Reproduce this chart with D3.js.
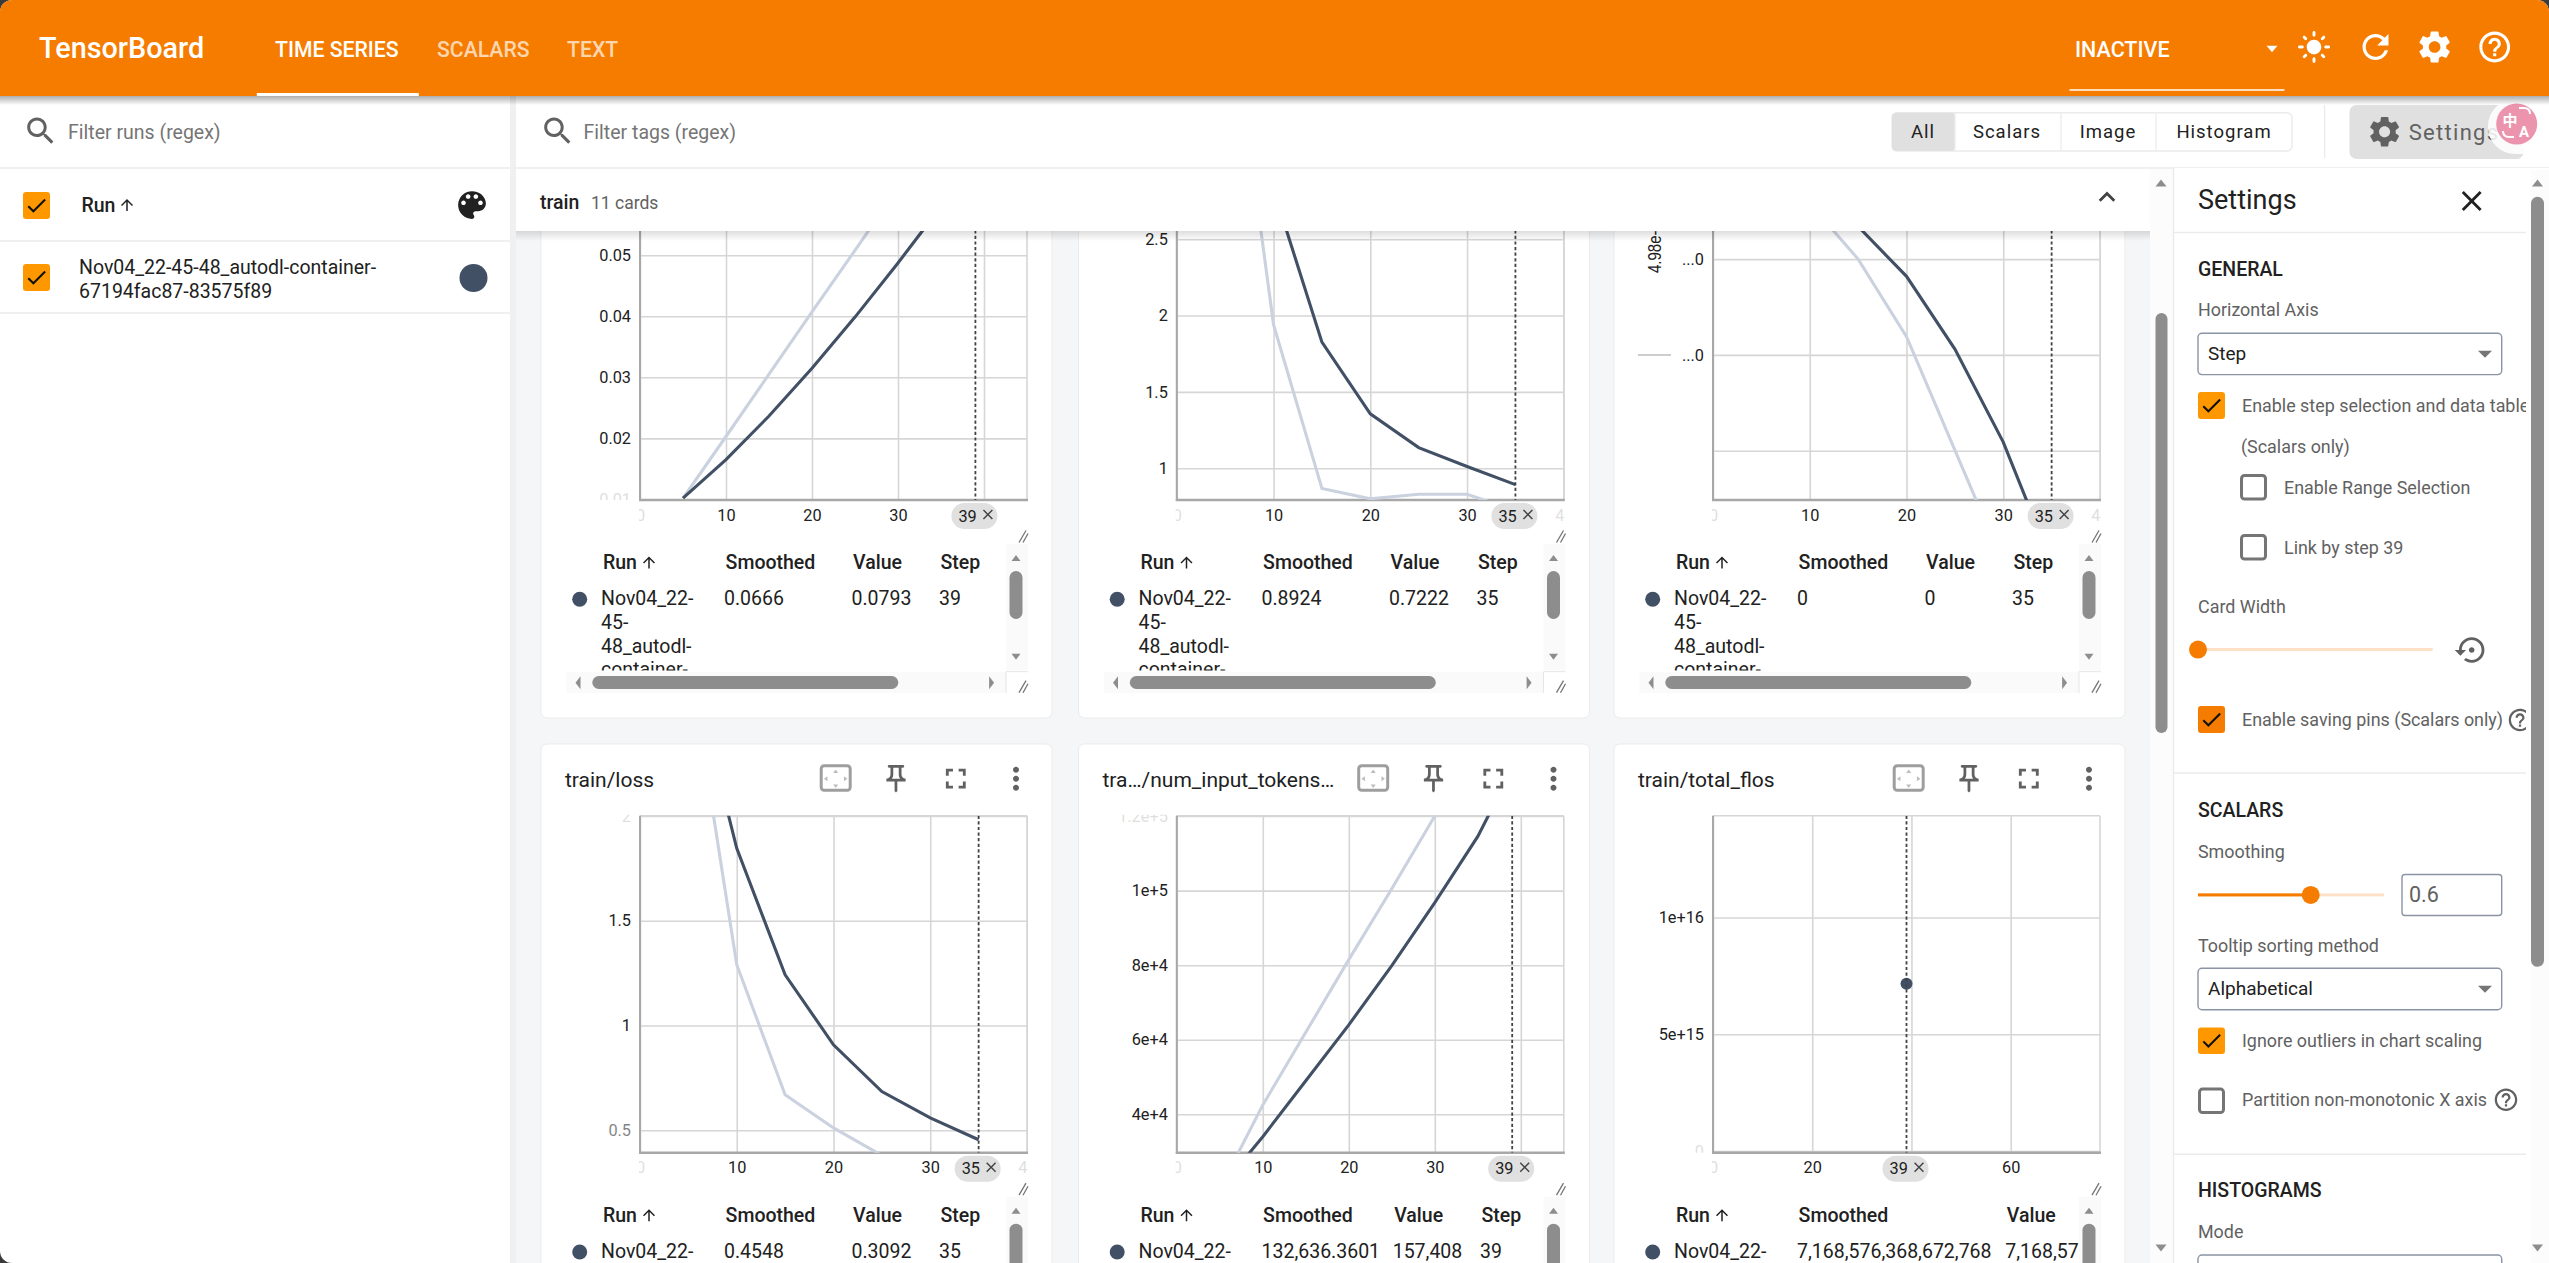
<!DOCTYPE html>
<html><head><meta charset="utf-8"><title>TensorBoard</title>
<script src="https://cdn.jsdelivr.net/npm/d3@7/dist/d3.min.js"></script>
<style>html,body{margin:0;padding:0;background:#3a3a3a;overflow:hidden}svg{display:block;font-family:Roboto,sans-serif}</style>
</head><body><svg id="c" width="2549" height="1263"></svg>
<script>
// ---------- data ----------
const steps = [5,10,15,20,25,30,35,39];
const stepsShort = [5,10,15,20,25,30,35];
const lrRaw = [0.0102,0.0203,0.0305,0.0407,0.0508,0.061,0.0712,0.0793];
const lrSmooth = [0.0102,0.0165,0.02365,0.03148,0.03986,0.04873,0.05797,0.0666];
const gradRaw = [4.3,1.94,0.867,0.80,0.83,0.83,0.7222];
const gradSmooth = [4.3,2.825,1.826,1.356,1.135,1.011,0.8924];
const rateRaw = [3.9,3.58,3.0,2.19,1.007,-0.18,-1.4];
const rateSmooth = [3.9,3.72,3.34,2.82,2.06,1.09,-0.17];
const lossRaw = [2.77,1.29,0.669,0.511,0.38,0.34,0.3092];
const lossSmooth = [2.77,1.845,1.242,0.908,0.685,0.559,0.4548];
const tokensRaw = [20000,42500,62000,81500,100500,120000,140000,157408];
const tokensSmooth = [20000,34000,49000,64000,79900,96800,114540,132636.36];
const flosStep = [39];
const flosValue = [7168576368672768];
const xTicks45 = [0,10,20,30,40];
const xTicks78 = [0,20,40,60];
const lrTicks = [0.01,0.02,0.03,0.04,0.05,0.06];
const gradTicks = [1,1.5,2,2.5];
const rateTicks = [1,2,3];
const lossTicks = [0.5,1,1.5,2];
const tokensTicks = [4e4,6e4,8e4,1e5,1.2e5];
const flosTicks = [0,5e15,1e16];
const runLines = ['Nov04_22-','45-','48_autodl-','container-'];
const runName = ['Nov04_22-45-48_autodl-container-','67194fac87-83575f89'];
const tableHead = ['Run','Smoothed','Value','Step'];
const lrRow = ['0.0666','0.0793','39'];
const gradRow = ['0.8924','0.7222','35'];
const rateRow = ['0','0','35'];
const lossRow = ['0.4548','0.3092','35'];
const tokensRow = ['132,636.3601','157,408','39'];
const flosRow = ['7,168,576,368,672,768','7,168,576,368,672,768','39'];
const titles = ['train/loss','tra…/num_input_tokens…','train/total_flos'];
const navTabs = ['TIME SERIES','SCALARS','TEXT'];
const filterTabs = ['All','Scalars','Image','Histogram'];

// ---------- icons ----------
const P = {
 search:"M15.5 14h-.79l-.28-.27C15.41 12.59 16 11.11 16 9.5 16 5.91 13.09 3 9.5 3S3 5.91 3 9.5 5.91 16 9.5 16c1.61 0 3.09-.59 4.23-1.57l.27.28v.79l5 4.99L20.49 19l-4.99-5zm-6 0C7.01 14 5 11.99 5 9.5S7.01 5 9.5 5 14 7.01 14 9.5 11.99 14 9.5 14z",
 refresh:"M17.65 6.35C16.2 4.9 14.21 4 12 4c-4.42 0-7.99 3.58-7.99 8s3.57 8 7.99 8c3.73 0 6.84-2.55 7.73-6h-2.08c-.82 2.33-3.04 4-5.65 4-3.31 0-6-2.69-6-6s2.69-6 6-6c1.66 0 3.14.69 4.22 1.78L13 11h7V4l-2.35 2.35z",
 gear:"M19.14 12.94c.04-.3.06-.61.06-.94 0-.32-.02-.64-.07-.94l2.03-1.58c.18-.14.23-.41.12-.61l-1.92-3.32c-.12-.22-.37-.29-.59-.22l-2.39.96c-.5-.38-1.03-.7-1.62-.94l-.36-2.54c-.04-.24-.24-.41-.48-.41h-3.84c-.24 0-.43.17-.47.41l-.36 2.54c-.59.24-1.13.57-1.62.94l-2.39-.96c-.22-.08-.47 0-.59.22L2.74 8.87c-.12.21-.08.47.12.61l2.03 1.58c-.05.3-.09.63-.09.94s.02.64.07.94l-2.03 1.58c-.18.14-.23.41-.12.61l1.92 3.32c.12.22.37.29.59.22l2.39-.96c.5.38 1.03.7 1.62.94l.36 2.54c.05.24.24.41.48.41h3.84c.24 0 .44-.17.47-.41l.36-2.54c.59-.24 1.13-.56 1.62-.94l2.39.96c.22.08.47 0 .59-.22l1.92-3.32c.12-.22.07-.47-.12-.61l-2.01-1.58zM12 15.6c-1.98 0-3.6-1.62-3.6-3.6s1.62-3.6 3.6-3.6 3.6 1.62 3.6 3.6-1.62 3.6-3.6 3.6z",
 help:"M11 18h2v-2h-2v2zm1-16C6.48 2 2 6.48 2 12s4.48 10 10 10 10-4.48 10-10S17.52 2 12 2zm0 18c-4.41 0-8-3.59-8-8s3.59-8 8-8 8 3.59 8 8-3.59 8-8 8zm0-14c-2.21 0-4 1.79-4 4h2c0-1.1.9-2 2-2s2 .9 2 2c0 2-3 1.75-3 5h2c0-2.25 3-2.5 3-5 0-2.21-1.79-4-4-4z",
 sun:"M12 7c-2.76 0-5 2.24-5 5s2.24 5 5 5 5-2.24 5-5-2.24-5-5-5zM2 13h2c.55 0 1-.45 1-1s-.45-1-1-1H2c-.55 0-1 .45-1 1s.45 1 1 1zm18 0h2c.55 0 1-.45 1-1s-.45-1-1-1h-2c-.55 0-1 .45-1 1s.45 1 1 1zM11 2v2c0 .55.45 1 1 1s1-.45 1-1V2c0-.55-.45-1-1-1s-1 .45-1 1zm0 18v2c0 .55.45 1 1 1s1-.45 1-1v-2c0-.55-.45-1-1-1s-1 .45-1 1zM5.99 4.58c-.39-.39-1.03-.39-1.41 0-.39.39-.39 1.03 0 1.41l1.06 1.06c.39.39 1.03.39 1.41 0s.39-1.03 0-1.41L5.99 4.58zm12.37 12.37c-.39-.39-1.03-.39-1.41 0-.39.39-.39 1.03 0 1.41l1.06 1.06c.39.39 1.03.39 1.41 0 .39-.39.39-1.03 0-1.41l-1.06-1.06zm1.06-10.96c.39-.39.39-1.03 0-1.41-.39-.39-1.03-.39-1.41 0l-1.06 1.06c-.39.39-.39 1.03 0 1.41s1.03.39 1.41 0l1.06-1.06zM7.05 18.36c.39-.39.39-1.03 0-1.41-.39-.39-1.03-.39-1.41 0l-1.06 1.06c-.39.39-.39 1.03 0 1.41s1.03.39 1.41 0l1.06-1.06z",
 palette:"M12 3c-4.97 0-9 4.03-9 9s4.03 9 9 9c.83 0 1.5-.67 1.5-1.5 0-.39-.15-.74-.39-1.01-.23-.26-.38-.61-.38-.99 0-.83.67-1.5 1.5-1.5H16c2.76 0 5-2.24 5-5 0-4.42-4.03-8-9-8zm-5.5 9c-.83 0-1.5-.67-1.5-1.5S5.67 9 6.5 9 8 9.67 8 10.5 7.33 12 6.5 12zm3-4C8.67 8 8 7.33 8 6.5S8.67 5 9.5 5s1.5.67 1.5 1.5S10.33 8 9.5 8zm5 0c-.83 0-1.5-.67-1.5-1.5S13.67 5 14.5 5s1.5.67 1.5 1.5S15.33 8 14.5 8zm3 4c-.83 0-1.5-.67-1.5-1.5S16.67 9 17.5 9s1.5.67 1.5 1.5-.67 1.5-1.5 1.5z",
 pin:"M14 4v5c0 1.12.37 2.16 1 3H9c.65-.86 1-1.9 1-3V4h4m3-2H7c-.55 0-1 .45-1 1s.45 1 1 1h1v5c0 1.66-1.34 3-3 3v2h5.97v7l1 1 1-1v-7H19v-2c-1.66 0-3-1.34-3-3V4h1c.55 0 1-.45 1-1s-.45-1-1-1z",
 full:"M7 14H5v5h5v-2H7v-3zm-2-4h2V7h3V5H5v5zm12 7h-3v2h5v-5h-2v3zM14 5v2h3v3h2V5h-5z",
 more:"M12 8c1.1 0 2-.9 2-2s-.9-2-2-2-2 .9-2 2 .9 2 2 2zm0 2c-1.1 0-2 .9-2 2s.9 2 2 2 2-.9 2-2-.9-2-2-2zm0 6c-1.1 0-2 .9-2 2s.9 2 2 2 2-.9 2-2-.9-2-2-2z",
 close:"M19 6.41L17.59 5 12 10.59 6.41 5 5 6.41 10.59 12 5 17.59 6.41 19 12 13.41 17.59 19 19 17.59 13.41 12z",
 less:"M12 8l-6 6 1.41 1.41L12 10.83l4.59 4.58L18 14z",
 up:"M4 12l1.41 1.41L11 7.83V20h2V7.83l5.58 5.59L20 12l-8-8-8 8z",
 reset:"M14 12c0-1.1-.9-2-2-2s-2 .9-2 2 .9 2 2 2 2-.9 2-2zm-2-9c-4.97 0-9 4.03-9 9H0l4 4 4-4H5c0-3.87 3.13-7 7-7s7 3.13 7 7-3.13 7-7 7c-1.51 0-2.91-.49-4.06-1.3l-1.42 1.44C8.04 20.3 9.94 21 12 21c4.97 0 9-4.03 9-9s-4.03-9-9-9z",
 check:"M9 16.17L4.83 12l-1.42 1.41L9 19 21 7l-1.41-1.41z"
};
const svg = d3.select('#c');
const defs = svg.append('defs');
function grad(id,o1){const g=defs.append('linearGradient').attr('id',id).attr('x1',0).attr('x2',0).attr('y1',0).attr('y2',1);
 g.append('stop').attr('offset',0).attr('stop-color','#000').attr('stop-opacity',o1);
 g.append('stop').attr('offset',1).attr('stop-color','#000').attr('stop-opacity',0);}
grad('sh1',.32);grad('sh2',.13);
const R=(g,x,y,w,h,f,o={})=>{const r=g.append('rect').attr('x',x).attr('y',y).attr('width',w).attr('height',h).attr('fill',f);
 if(o.r)r.attr('rx',o.r);if(o.s)r.attr('stroke',o.s).attr('stroke-width',o.sw||1.5);return r;};
const T=(g,x,y,s,o={})=>{const t=g.append('text').attr('x',x).attr('y',y).text(s).attr('font-size',o.s||19.5).attr('fill',o.c||'#212121').attr('font-weight',o.w||400).attr('text-anchor',o.a||'start');
 if(o.ls)t.attr('letter-spacing',o.ls);if(o.f)t.attr('font-family',o.f);return t;};
const I=(g,n,cx,cy,size,c)=>g.append('path').attr('d',P[n]).attr('fill',c).attr('transform',`translate(${cx-size/2},${cy-size/2}) scale(${size/24})`);
const Tri=(g,cx,cy,w,h,dir,c)=>{const d=d3.path();
 if(dir==='d'){d.moveTo(cx-w/2,cy-h/2);d.lineTo(cx+w/2,cy-h/2);d.lineTo(cx,cy+h/2);}
 if(dir==='u'){d.moveTo(cx-w/2,cy+h/2);d.lineTo(cx+w/2,cy+h/2);d.lineTo(cx,cy-h/2);}
 if(dir==='l'){d.moveTo(cx+h/2,cy-w/2);d.lineTo(cx+h/2,cy+w/2);d.lineTo(cx-h/2,cy);}
 if(dir==='r'){d.moveTo(cx-h/2,cy-w/2);d.lineTo(cx-h/2,cy+w/2);d.lineTo(cx+h/2,cy);}
 d.closePath();g.append('path').attr('d',d.toString()).attr('fill',c);};
const L=(g,x1,y1,x2,y2,c,w=1.5)=>g.append('line').attr('x1',x1).attr('y1',y1).attr('x2',x2).attr('y2',y2).attr('stroke',c).attr('stroke-width',w);
function clip(id,x,y,w,h){defs.append('clipPath').attr('id',id).append('rect').attr('x',x).attr('y',y).attr('width',w).attr('height',h);return `url(#${id})`;}
const Box=(g,x,y,w,h,on,fill)=>{if(on){R(g,x,y,w,h,fill||'#ff9800',{r:3});I(g,'check',x+w/2,y+h/2,25,'#111');}
 else R(g,x+1.5,y+1.5,w-3,h-3,'#fff',{r:3,s:'#757575',sw:3});};

// base page
R(svg,0,0,2549,1263,'#fff',{r:12});
const mainG=svg.append('g').attr('clip-path',clip('mainclip',516,96,1634,1167));
R(mainG,516,96,1634,1167,'#f5f6f7');

// ---------- cards ----------
const INK='#425066';
const INK_LIGHT='#cbd2df';
function chart(o){
 const g=mainG.append('g');
 const cL=o.cL, left=o.left, right=left+o.w, bottom=o.bottom, top=bottom-337;
 R(g,cL,o.cardTop,o.cw,o.cardH,'#fff',{r:6,s:'#ebebeb',sw:1});
 if(o.title){
  T(g,cL+24,bottom-366,o.title,{s:21,c:'#212121'});
  R(g,cL+294.7-14.5,bottom-387,29,24.5,'#fff',{r:3,s:'#9e9e9e',sw:3});
  const fx=cL+294.7,fy=bottom-374;
  Tri(g,fx,fy-7.5,5,3.5,'u','#bdbdbd');Tri(g,fx,fy+7.5,5,3.5,'d','#bdbdbd');Tri(g,fx-10,fy,5,3.5,'l','#bdbdbd');Tri(g,fx+10,fy,5,3.5,'r','#bdbdbd');
  I(g,'pin',cL+355,bottom-374,33,'#616161');
  I(g,'full',cL+414.8,bottom-374,34,'#616161');
  I(g,'more',cL+475,bottom-374,36,'#616161');
 }
 const x=d3.scaleLinear().domain(o.xd).range([left,right]);
 const y=d3.scaleLinear().domain(o.yd).range([bottom,top]);
 const yClip=clip('yc'+o.id,left-110,top-1,o.w+110,bottom-top+1);
 const xClip=clip('xc'+o.id,left-1,top,o.w+2,bottom-top+45);
 const fade=d=>d<8?0.14:(d<26?0.55:1);
 const yG=g.append('g').attr('clip-path',yClip)
   .call(sel=>{sel.append('g').attr('transform',`translate(${left},0)`).call(d3.axisLeft(y).tickValues(o.yt).tickSize(-o.w).tickPadding(9).tickFormat(o.yf));});
 const xG=g.append('g').attr('clip-path',xClip).call(sel=>{sel.append('g').attr('transform',`translate(0,${bottom})`).call(d3.axisBottom(x).tickValues(o.xt).tickSize(-(bottom-top)).tickPadding(9));});
 [yG,xG].forEach(s=>{s.selectAll('.domain').remove();
   s.selectAll('.tick line').attr('stroke','#d6d6d6').attr('stroke-width',1.6);
   s.selectAll('.tick text').attr('font-size',16.3).attr('font-family','Roboto').attr('fill','#212121');});
 yG.selectAll('.tick text').attr('opacity',d=>fade(Math.min(bottom-y(d),y(d)-top)));
 xG.selectAll('.tick text').attr('opacity',d=>fade(Math.min(x(d)-left,right-x(d))));
 L(g,left,top,right,top,'#d6d6d6',1.6);L(g,right,top,right,bottom,'#d6d6d6',1.6);
 L(g,left,top,left,bottom+1,'#a8a8a8',2);L(g,left-1,bottom,right+1,bottom,'#a8a8a8',2.6);
 const plot=g.append('g').attr('clip-path',clip('pc'+o.id,left,top,o.w,bottom-top));
 const line=d3.line().x(d=>x(d[0])).y(d=>y(d[1]));
 if(o.raw) plot.append('path').attr('d',line(d3.zip(o.sx,o.raw))).attr('fill','none').attr('stroke',INK_LIGHT).attr('stroke-width',3.1);
 if(o.smooth) plot.append('path').attr('d',line(d3.zip(o.sx,o.smooth))).attr('fill','none').attr('stroke',INK).attr('stroke-width',3.1);
 if(o.pt) plot.selectAll('circle.p').data(d3.zip(o.pt[0],o.pt[1])).join('circle').attr('cx',d=>x(d[0])).attr('cy',d=>y(d[1])).attr('r',6).attr('fill',INK);
 const xs=x(o.step);
 L(plot,xs,top,xs,bottom,'#424242',1.8).attr('stroke-dasharray','3.2,2.4');
 R(g,xs-24,bottom+3,46,26,'#e0e0e0',{r:13});
 T(g,xs-17,bottom+21.5,String(o.step),{s:16.3});
 I(g,'close',xs+12.5,bottom+14.5,17,'#424242');
 // chart resize handle
 const hx=cL+480,hy=bottom+36.5;
 L(g,hx-2,hy+6,hx+5,hy-6,'#757575',1.3);L(g,hx+2,hy+6,hx+7,hy-3,'#757575',1.3);
 // table
 const v=o.cols;
 const tb=g.append('g').attr('clip-path',clip('tc'+o.id,cL+25,bottom+40,440,130.5));
 T(tb,cL+62,bottom+69,tableHead[0],{w:500});
 I(tb,'up',cL+108,bottom+62.5,18,'#212121');
 T(tb,cL+184.6,bottom+69,tableHead[1],{w:500});
 T(tb,cL+v[0],bottom+69,tableHead[2],{w:500});
 T(tb,cL+v[1],bottom+69,tableHead[3],{w:500});
 tb.append('circle').attr('cx',cL+38.7).attr('cy',bottom+99.3).attr('r',7.5).attr('fill',INK);
 runLines.forEach((s,i)=>T(tb,cL+60,bottom+105+i*23.8,s));
 T(tb,cL+183,bottom+105,o.row[0]);
 T(tb,cL+v[0]-1.5,bottom+105,o.row[1]);
 T(tb,cL+v[1]-1.5,bottom+105,o.row[2]);
 // table vertical scrollbar
 R(g,cL+465,bottom+44,22,126.5,'#fafafa');
 Tri(g,cL+475,bottom+58,9,6,'u','#8d8d8d');
 R(g,cL+468.5,bottom+71,13,48,'#8d8d8d',{r:6.5});
 Tri(g,cL+475,bottom+156.7,9,6,'d','#8d8d8d');
 // table horizontal scrollbar
 R(g,cL+25.4,bottom+171.7,439.6,21.3,'#fafafa');
 Tri(g,cL+37,bottom+182.7,13,5,'l','#8d8d8d');
 R(g,cL+51.3,bottom+176,306,13,'#8d8d8d',{r:6.5});
 Tri(g,cL+450.6,bottom+182.7,13,5,'r','#8d8d8d');
 R(g,cL+465,bottom+171.7,22,21.3,'#fff');
 L(g,cL+465,bottom+171.7,cL+487,bottom+171.7,'#e6e6e6',1);
 L(g,cL+465,bottom+171.7,cL+465,bottom+193,'#e6e6e6',1);
 const qx=cL+480,qy=bottom+186.7;
 L(g,qx-2,qy+6,qx+5,qy-6,'#757575',1.3);L(g,qx+2,qy+6,qx+7,qy-3,'#757575',1.3);
 return g;
}
const rowTop={cardTop:60,cardH:658,cw:511,bottom:500};
const rowBot={cardTop:744,cardH:660,cw:511,bottom:1152.7};
const stdCols=[312,399.5];
chart({...rowTop,id:1,cL:541,left:640,w:387,xd:[0,45],yd:[0.0099,0.0651],xt:xTicks45,yt:lrTicks,yf:d=>d3.format('.2f')(d),sx:steps,raw:lrRaw,smooth:lrSmooth,step:39,cols:stdCols,row:lrRow});
chart({...rowTop,id:2,cL:1078.5,left:1176.8,w:387,xd:[0,40],yd:[0.792,2.999],xt:xTicks45,yt:gradTicks,yf:d3.format('~g'),sx:stepsShort,raw:gradRaw,smooth:gradSmooth,step:35,cols:stdCols,row:gradRow});
const g3=chart({...rowTop,id:3,cL:1614,left:1713,w:387,xd:[0,40],yd:[0.4854,4.003],xt:xTicks45,yt:rateTicks,yf:d=>d>=2?'...0':'',sx:stepsShort,raw:rateRaw,smooth:rateSmooth,step:35,cols:stdCols,row:rateRow});
T(g3,0,0,'4.98e-',{s:15,f:'"Liberation Sans"',c:'#212121'}).attr('transform','translate(1660.7,273) rotate(-90) scale(1,1.25)');
L(g3,1638,355,1671,355,'#bdbdbd',1.3);
chart({...rowBot,id:4,title:titles[0],cL:541,left:640,w:387,xd:[0,40],yd:[0.393,2.001],xt:xTicks45,yt:lossTicks,yf:d3.format('~g'),sx:stepsShort,raw:lossRaw,smooth:lossSmooth,step:35,cols:stdCols,row:lossRow});
chart({...rowBot,id:5,title:titles[1],cL:1078.5,left:1176.8,w:387,xd:[0,45],yd:[29700,120100],xt:xTicks45,yt:tokensTicks,yf:d=>d3.format('.1~e')(d),sx:steps,raw:tokensRaw,smooth:tokensSmooth,step:39,cols:[315.7,403],row:tokensRow});
chart({...rowBot,id:6,title:titles[2],cL:1614,left:1713,w:387,xd:[0,78],yd:[-7e13,1.436e16],xt:xTicks78,yt:flosTicks,yf:d=>d===0?'0':d3.format('.0e')(d),pt:[flosStep,flosValue],step:39,cols:[392.8,560],row:flosRow});

// section header
const head=svg.append('g');
R(head,516,231,1634,10,'url(#sh2)');
R(head,516,168,1634,63,'#fff');
T(head,540,209,'train',{w:500,s:19.5});
T(head,591,208.5,'11 cards',{s:17.5,c:'#616161'});
I(head,'less',2107,197,33,'#424242');

// main scrollbar
const sb=svg.append('g');
R(sb,2150,168,24,1095,'#fcfcfc');
Tri(sb,2161,183,11,7,'u','#8d8d8d');
R(sb,2155.5,313,12,420,'#8d8d8d',{r:6});
Tri(sb,2161,1248,11,7,'d','#8d8d8d');

// toolbars
const tb=svg.append('g');
R(tb,516,96,2033,72,'#fff');
L(tb,0,168,2549,168,'#ebebeb',1.6);
R(tb,510,96,6,1167,'#f0f0f0');
I(tb,'search',557.7,131,36,'#616161');
T(tb,583.6,139,'Filter tags (regex)',{c:'#757575'});
R(tb,1892,112.7,400,38.3,'#fff',{r:5,s:'#ebebeb',sw:1.5});
R(tb,1892,112.7,63,38.3,'#e0e0e0',{r:4});
[2061,2156,1955].forEach(x=>L(tb,x,113,x,151,'#ebebeb',1.2));
const fCenter=[1923,2007,2108,2224];
filterTabs.forEach((s,i)=>T(tb,fCenter[i],137.5,s,{s:18.5,a:'middle',ls:1}));
L(tb,2324.6,105,2324.6,158,'#ebebeb',1.4);
R(tb,2349.5,105,174,54,'#e0e0e0',{r:7});
I(tb,'gear',2384.6,131.7,37,'#616161');
T(tb,2408.7,140,'Settings',{s:22,c:'#616161',ls:1.3});
R(tb,2488,99,70,55,'#fff',{r:27}).attr('opacity',.85);
tb.append('circle').attr('cx',2516.7).attr('cy',124).attr('r',20.5).attr('fill','#ec93ae');
T(tb,2510,125.5,'中',{s:15,c:'#fff',a:'middle',f:'"Noto Sans CJK SC"',w:700});
T(tb,2524,137,'A',{s:15,c:'#fff',a:'middle',w:700});
tb.append('path').attr('d','M2519 108H2524Q2530 108 2530 114').attr('fill','none').attr('stroke','#fff').attr('stroke-width',2);
tb.append('path').attr('d','M2503 131Q2503 137 2509 137H2514').attr('fill','none').attr('stroke','#fff').attr('stroke-width',2);

// left sidebar
const sideB=svg.append('g');
I(sideB,'search',40.7,131,36,'#616161');
T(sideB,68,139,'Filter runs (regex)',{c:'#757575'});
Box(sideB,23,192,27,27,true);
T(sideB,81.4,212,'Run',{w:500});
I(sideB,'up',127,205,18,'#212121');
I(sideB,'palette',472,205,37,'#212121');
L(sideB,0,241,510,241,'#ebebeb',1.6);
Box(sideB,23,264,27,27,true);
runName.forEach((s,i)=>T(sideB,79,274+i*23.5,s));
sideB.append('circle').attr('cx',473.5).attr('cy',278).attr('r',14).attr('fill',INK);
L(sideB,0,313,510,313,'#ebebeb',1.6);

// settings panel
const st=svg.append('g');
R(st,2174,168,375,1095,'#fff');
L(st,2173.5,168,2173.5,1263,'#ebebeb',1.4);
T(st,2198,209.3,'Settings',{s:27});
I(st,'close',2471.7,201,34,'#212121');
[232.5,773,1154.2].forEach(y=>L(st,2174,y,2526,y,'#ebebeb',1.4));
const H=(x,y,s)=>T(st,x,y,s,{w:500,s:19.5});
const G=(x,y,s)=>T(st,x,y,s,{c:'#616161',s:17.9});
const Sel=(y,h,s)=>{R(st,2198,y,303.7,h,'#fff',{r:4,s:'#8a94a4',sw:1.4});T(st,2208,y+27,s,{s:19,c:'#212121'});Tri(st,2485,y+21,14,7,'d','#757575');};
H(2198,276,'GENERAL');
G(2198,316.4,'Horizontal Axis');
Sel(333.2,41.4,'Step');
Box(st,2198,392,27,27,true);
const clipG=st.append('g').attr('clip-path',clip('stc',2174,168,352,1095));
T(clipG,2242,412,'Enable step selection and data table',{c:'#616161',s:17.9});
G(2241,453,'(Scalars only)');
Box(st,2240,474,27,26.5,false);
G(2284,494,'Enable Range Selection');
Box(st,2240,534,27,26.5,false);
G(2284,554,'Link by step 39');
G(2198,613,'Card Width');
R(st,2198,648,234.7,3,'#fde0c6');
st.append('circle').attr('cx',2198).attr('cy',649.6).attr('r',9).attr('fill','#f57c00');
I(st,'reset',2471.7,650,34,'#616161');
Box(st,2198,706,27,27,true,'#f57c00');
G(2242,726,'Enable saving pins (Scalars only)');
I(clipG,'help',2520,720,27,'#616161');
H(2198,816.7,'SCALARS');
G(2198,857.5,'Smoothing');
R(st,2198,893.4,186,3,'#fde0c6');
R(st,2198,893.4,112.7,3,'#f57c00');
st.append('circle').attr('cx',2310.7).attr('cy',894.9).attr('r',9).attr('fill','#f57c00');
R(st,2402,874.5,99.7,41,'#fff',{r:3,s:'#8a94a4',sw:1.4});
T(st,2409,901.6,'0.6',{s:21.5,c:'#616161'});
G(2198,951.6,'Tooltip sorting method');
Sel(968.3,41.4,'Alphabetical');
Box(st,2198,1027.4,27,26.5,true);
G(2242,1046.8,'Ignore outliers in chart scaling');
Box(st,2198,1087.6,27,26.5,false);
G(2242,1106.3,'Partition non-monotonic X axis');
I(st,'help',2506,1099.8,27,'#616161');
H(2198,1197.4,'HISTOGRAMS');
G(2198,1238,'Mode');
R(st,2198,1255,303.7,40,'#fff',{r:4,s:'#8a94a4',sw:1.4});
R(st,2531,170,18,1093,'#fcfcfc');
Tri(st,2537.5,183,11,7,'u','#8d8d8d');
R(st,2531,196.8,13,770,'#8d8d8d',{r:6.5});
Tri(st,2537.5,1248,11,7,'d','#8d8d8d');

// top bar
const barG=svg.append('g');
R(barG,0,96,2549,9,'url(#sh1)');
barG.append('path').attr('d','M0 96V12A12 12 0 0 1 12 0H2537A12 12 0 0 1 2549 12V96Z').attr('fill','#f67c00');
T(barG,39,58,'TensorBoard',{s:28.8,c:'#fff',w:500});
const navX=[275,437,567];
navTabs.forEach((s,i)=>T(barG,navX[i],56.5,s,{s:21.2,c:i?'rgba(255,255,255,.7)':'#fff',w:500}));
R(barG,256.8,93,162,3,'#fff');
T(barG,2075,57,'INACTIVE',{s:21.5,c:'#fff',w:500});
L(barG,2069.5,90,2284.5,90,'#fff',1.6);
Tri(barG,2272,49,11,6.5,'d','#fff');
I(barG,'sun',2314,47,35,'#fff');
I(barG,'refresh',2375.5,47,39,'#fff');
I(barG,'gear',2434.6,47,39,'#fff');
I(barG,'help',2494.7,47,37,'#fff');
</script></body></html>
